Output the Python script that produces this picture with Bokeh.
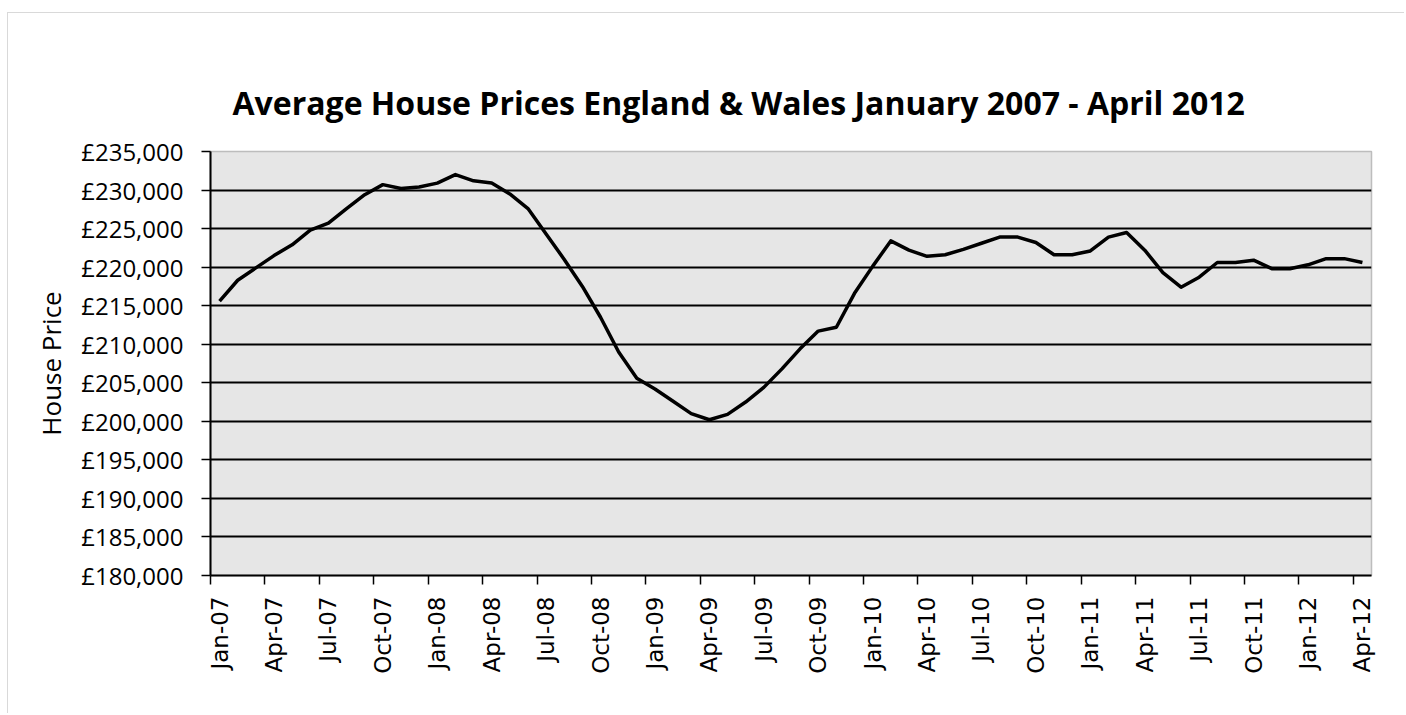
import math
from bokeh.plotting import figure
from bokeh.models import FixedTicker, ColumnDataSource
from bokeh.embed import file_html
from bokeh.resources import INLINE

# ---- data (monthly average price, Jan-2007 .. Apr-2012) ----
prices = [
    215600, 218300, 219900, 221500, 222900, 224800, 225700, 227600, 229400, 230700, 230200, 230400,
    230900, 232000, 231200, 230900, 229500, 227600, 224300, 221000, 217500, 213500, 209000, 205600,
    204200, 202600, 201000, 200200, 200900, 202500, 204400, 206800, 209400, 211700, 212200, 216600,
    220100, 223400, 222200, 221400, 221600, 222300, 223100, 223900, 223900, 223200, 221600, 221600,
    222100, 223900, 224500, 222200, 219300, 217400, 218700, 220600, 220600, 220900, 219800, 219800,
    220300, 221100, 221100, 220600,
]
month_index = list(range(len(prices)))
tick_labels = ["Jan-07", "Apr-07", "Jul-07", "Oct-07", "Jan-08", "Apr-08", "Jul-08", "Oct-08",
               "Jan-09", "Apr-09", "Jul-09", "Oct-09", "Jan-10", "Apr-10", "Jul-10", "Oct-10",
               "Jan-11", "Apr-11", "Jul-11", "Oct-11", "Jan-12", "Apr-12"]
tick_months = [3 * k for k in range(len(tick_labels))]
y_ticks = list(range(180000, 235001, 5000))

title_text = "Average House Prices England & Wales January 2007 - April 2012"

src = ColumnDataSource(dict(x=[m + 0.5 for m in month_index], y=prices))

p = figure(width=1397, height=701, output_backend="svg", toolbar_location=None,
           x_range=(0, len(prices)), y_range=(180000, 235000),
           min_border_left=202, min_border_right=34, min_border_top=138, min_border_bottom=139,
           background_fill_color="#e6e6e6", border_fill_color="white",
           outline_line_color="#bdbdbd", outline_line_width=1.5)
p.styles = {"margin-left": "7px", "margin-top": "12px",
            "border-left": "1px solid #d9d9d9", "border-top": "1px solid #d9d9d9"}

p.title.text = title_text
p.title.align = "left"
p.title.offset = 22
p.title.text_font = "Open Sans"
p.title.text_font_style = "bold"
p.title.text_font_size = "32px"
p.title.text_color = "black"
p.title.standoff = 55

p.line("x", "y", source=src, line_color="black", line_width=3.5, line_join="round")

# y axis
p.yaxis.ticker = FixedTicker(ticks=y_ticks, minor_ticks=[])
p.yaxis.major_label_overrides = {v: "£{:,}".format(v) for v in y_ticks}
p.yaxis.major_label_text_font = "Open Sans"
p.yaxis.major_label_text_font_size = "24px"
p.yaxis.major_label_text_color = "black"
p.yaxis.major_label_standoff = 18
p.yaxis.major_tick_in = 0
p.yaxis.major_tick_out = 9
p.yaxis.major_tick_line_width = 1.5
p.yaxis.axis_line_width = 2
p.yaxis.axis_label = "House Price"
p.yaxis.axis_label_text_font = "Open Sans"
p.yaxis.axis_label_text_font_size = "26px"
p.yaxis.axis_label_text_font_style = "normal"
p.yaxis.axis_label_text_color = "black"
p.yaxis.axis_label_standoff = 9

# x axis: labels at category centres, tick marks at category boundaries
centres = [m + 0.5 for m in tick_months]
p.xaxis.ticker = FixedTicker(ticks=centres, minor_ticks=tick_months)
p.xaxis.major_label_overrides = {c: lab for c, lab in zip(centres, tick_labels)}
p.xaxis.major_label_orientation = math.pi / 2
p.xaxis.major_label_text_font = "DejaVu Sans"
p.xaxis.major_label_text_font_size = "23px"
p.xaxis.major_label_text_color = "black"
p.xaxis.major_label_standoff = 12
p.xaxis.major_tick_line_color = None
p.xaxis.major_tick_in = 0
p.xaxis.major_tick_out = 9
p.xaxis.minor_tick_line_color = "black"
p.xaxis.minor_tick_line_width = 1.5
p.xaxis.minor_tick_in = 0
p.xaxis.minor_tick_out = 9
p.xaxis.axis_line_width = 2

p.xgrid.visible = False
p.ygrid.ticker = FixedTicker(ticks=y_ticks[1:-1], minor_ticks=[])
p.ygrid.grid_line_color = "black"
p.ygrid.grid_line_width = 2

open("out.html", "w").write(file_html(p, INLINE))
